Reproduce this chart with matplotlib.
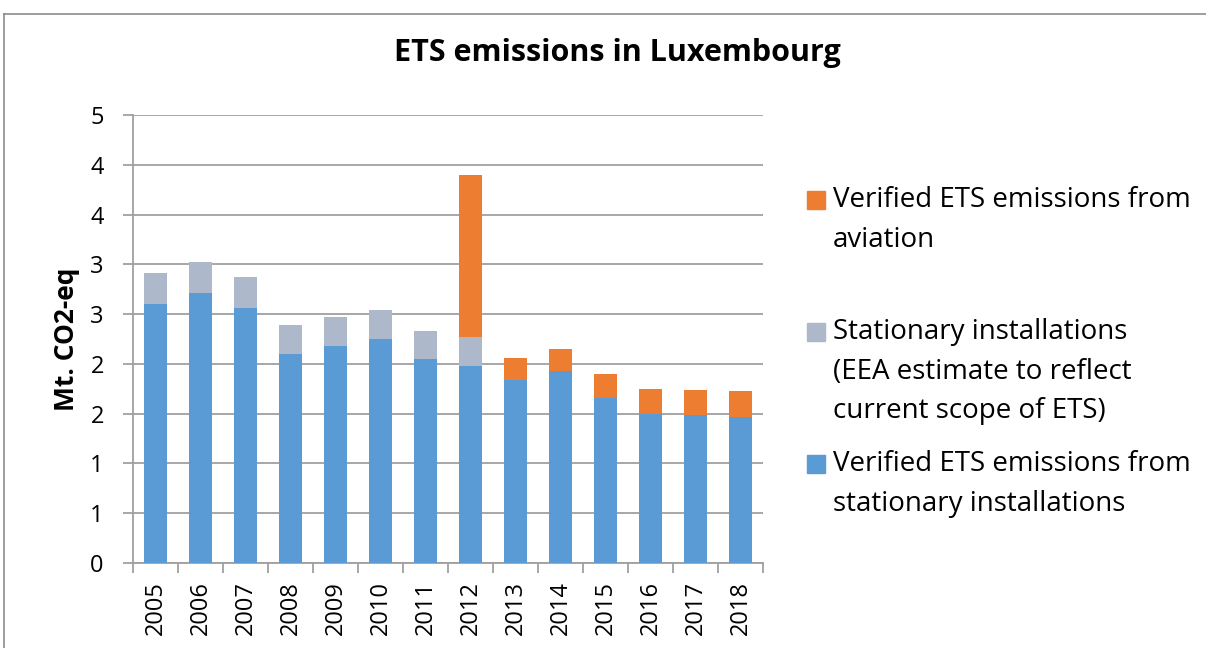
import numpy as np
import matplotlib
matplotlib.use("Agg")
import matplotlib.pyplot as plt
from matplotlib.patches import Rectangle
from matplotlib.lines import Line2D

plt.rcParams['font.family'] = ['Open Sans', 'DejaVu Sans']

years = ["2005", "2006", "2007", "2008", "2009", "2010", "2011",
         "2012", "2013", "2014", "2015", "2016", "2017", "2018"]
verified_stationary = [2.60, 2.71, 2.56, 2.10, 2.18, 2.25, 2.05,
                       1.98, 1.84, 1.93, 1.655, 1.50, 1.49, 1.47]
eea_estimate = [0.315, 0.31, 0.31, 0.29, 0.295, 0.29, 0.28,
                0.29, 0, 0, 0, 0, 0, 0]
aviation = [0, 0, 0, 0, 0, 0, 0,
            1.625, 0.22, 0.22, 0.245, 0.25, 0.25, 0.26]
ytick_values = [0, 0.5, 1, 1.5, 2, 2.5, 3, 3.5, 4, 4.5]
ytick_labels = ["0", "1", "1", "2", "2", "3", "3", "4", "4", "5"]

legend_labels = ["Verified ETS emissions from\naviation",
                 "Stationary installations\n(EEA estimate to reflect\ncurrent scope of ETS)",
                 "Verified ETS emissions from\nstationary installations"]

c_blue = "#5B9BD5"
c_grey = "#ADB9CA"
c_orange = "#ED7D31"
c_axis = "#A0A0A0"

W, H = 1206, 648
fig = plt.figure(figsize=(W / 100, H / 100), dpi=100)
ax = fig.add_axes([133 / W, 1 - 563 / H, 630 / W, 448 / H])

x = np.arange(len(years))
b1 = np.array(verified_stationary)
b2 = np.array(eea_estimate)
b3 = np.array(aviation)
ax.bar(x, b1, width=0.5, color=c_blue, zorder=3)
ax.bar(x, b2, width=0.5, bottom=b1, color=c_grey, zorder=3)
ax.bar(x, b3, width=0.5, bottom=b1 + b2, color=c_orange, zorder=3)

ax.set_xlim(-0.5, len(years) - 0.5)
ax.set_ylim(0, 4.5)
ax.set_yticks(ytick_values)
ax.set_yticklabels(ytick_labels, fontsize=17)
ax.yaxis.grid(True, color=c_axis, linewidth=1.3, zorder=0)
for s in ["top", "right"]:
    ax.spines[s].set_visible(False)
for s in ["left", "bottom"]:
    ax.spines[s].set_color(c_axis)
    ax.spines[s].set_linewidth(1.3)
ax.tick_params(axis="y", length=7, width=1.3, color=c_axis, pad=14)

ax.set_xticks(x)
ax.set_xticklabels(years, rotation=90, fontsize=17)
ax.tick_params(axis="x", length=0, pad=13)
ax.set_xticks(np.arange(-0.5, len(years)), minor=True)
ax.tick_params(axis="x", which="minor", length=7, width=1.3, color=c_axis)

ax.set_ylabel("Mt. CO2-eq", fontsize=19, fontweight="bold")
ax.yaxis.set_label_coords(67 / W, 1 - 339 / H, transform=fig.transFigure)
ax.yaxis.label.set_va("center")

fig.text(617 / W, 1 - 53 / H, "ETS emissions in Luxembourg", ha="center", va="center",
         fontsize=22, fontweight="bold")

# legend
colors = [c_orange, c_grey, c_blue]
key_y = [200, 332, 464]
for lab, col, ky in zip(legend_labels, colors, key_y):
    fig.patches.append(Rectangle((807 / W, 1 - (ky + 9) / H), 18 / W, 18 / H,
                                 transform=fig.transFigure, color=col))
    fig.text(833 / W, 1 - (ky - 14) / H, lab, ha="left", va="top", fontsize=20,
             linespacing=1.55)

# outer frame
fig.add_artist(Line2D([4 / W, 4 / W], [0, 1 - 14 / H], transform=fig.transFigure,
                      color="#8C8C8C", linewidth=1.2))
fig.add_artist(Line2D([4 / W, 1], [1 - 14 / H, 1 - 14 / H], transform=fig.transFigure,
                      color="#8C8C8C", linewidth=1.2))

fig.savefig("out.png", dpi=100)
